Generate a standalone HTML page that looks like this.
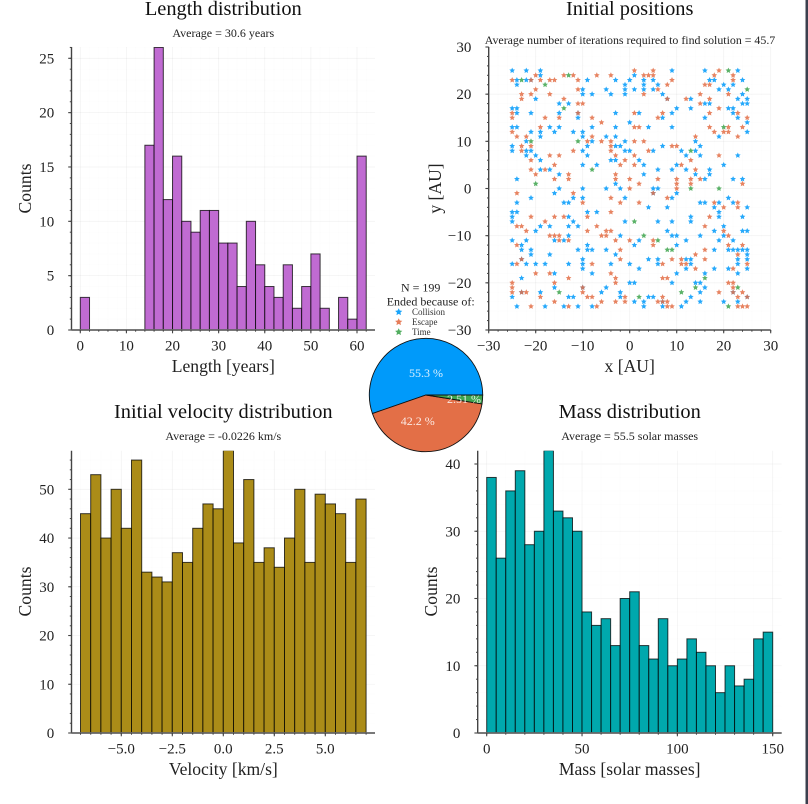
<!DOCTYPE html>
<html>
<head>
<meta charset="utf-8">
<title>Simulation summary charts</title>
<style>
html,body{margin:0;padding:0;background:#fff;width:808px;height:804px;overflow:hidden}
svg{display:block;position:absolute;left:0;top:0}
text{font-family:"Liberation Serif",serif;fill:#222}
.title{font-size:20.4px;text-anchor:middle;fill:#111}
.sub{font-size:12px;text-anchor:middle}
.wide-sub{font-size:11.9px}
.label{font-size:17.6px;text-anchor:middle}
.tick{font-size:15px}
.leg{font-size:9px;fill:#333}
.pct{font-size:12px;fill:#fff;fill-opacity:.85;text-anchor:middle}
</style>
</head>
<body>
<svg id="chart" width="808" height="804" viewBox="0 0 808 804" xmlns="http://www.w3.org/2000/svg">
  <rect x="0" y="0" width="808" height="804" fill="#fff"/>
  <rect x="805.5" y="0" width="2.5" height="804" fill="#3b3f4e"/>
  <g id="panels"></g>

  <text class="title" x="223.3" y="15">Length distribution</text>
  <text class="sub" x="223.3" y="37">Average = 30.6 years</text>
  <text class="label" x="223.3" y="372">Length [years]</text>
  <text class="label" transform="translate(31,188.5) rotate(-90)">Counts</text>

  <text class="title" x="629.7" y="15">Initial positions</text>
  <text class="sub wide-sub" x="630" y="44">Average number of iterations required to find solution = 45.7</text>
  <text class="label" x="629.7" y="372">x [AU]</text>
  <text class="label" transform="translate(441,188.5) rotate(-90)">y [AU]</text>

  <text class="title" x="223.3" y="418">Initial velocity distribution</text>
  <text class="sub" x="223.3" y="440">Average = -0.0226 km/s</text>
  <text class="label" x="223.3" y="775">Velocity [km/s]</text>
  <text class="label" transform="translate(31,591.5) rotate(-90)">Counts</text>

  <text class="title" x="629.7" y="418">Mass distribution</text>
  <text class="sub" x="629.7" y="440">Average = 55.5 solar masses</text>
  <text class="label" x="629.7" y="775">Mass [solar masses]</text>
  <text class="label" transform="translate(437,591.5) rotate(-90)">Counts</text>

  <g id="pie"></g>

  <text class="sub" x="420.7" y="291.5">N = 199</text>
  <text class="sub" x="430.7" y="305.5">Ended because of:</text>
  <g id="legend"></g>
</svg>
<script>
/* ---- data ---- */
var lengthCounts = [3,0,0,0,0,0,0,17,26,12,16,10,9,11,11,8,8,4,10,6,4,3,6,2,4,7,2,0,3,1,16];
var lengthBinStart = 0;
var lengthBinWidth = 2;
var lengthXTicks = [0,10,20,30,40,50,60];
var lengthYTicks = [0,5,10,15,20,25];

var velocityCounts = [45,53,40,50,42,56,33,32,31,37,35,42,47,46,58,39,52,35,38,34,40,50,35,49,47,45,35,48];
var velocityBinStart = -7;
var velocityBinWidth = 0.5;
var velocityXTicks = [-5,-2.5,0,2.5,5];
var velocityXTickLabels = ["\u22125.0","\u22122.5","0.0","2.5","5.0"];
var velocityYTicks = [0,10,20,30,40,50];

var massCounts = [38,26,36,39,28,30,42,33,32,30,18,16,17,13,20,21,13,11,17,10,11,14,12,10,6,10,7,8,14,15];
var massBinStart = 0;
var massBinWidth = 5;
var massXTicks = [0,50,100,150];
var massYTicks = [0,10,20,30,40];

var positionTicks = [-30,-20,-10,0,10,20,30];
var positionTickLabels = ["\u221230","\u221220","\u221210","0","10","20","30"];

var outcomeNames = ["Collision","Escape","Time"];
var outcomeShares = [55.3,42.2,2.51];
var outcomeLabels = ["55.3 %","42.2 %","2.51 %"];

var collisionPoints = [
[-25,25],[-22,25],[-19,25],[9,25],[16,25],[23,25],[-19,24],[1,24],
[-24,23],[-22,23],[-21,23],[-9,23],[-3,23],[0,23],[3,23],[5,23],[17,23],[18,23],[24,23],
[-24,22],[-1,22],[3,22],[6,22],[20,22],[22,22],[-10,21],[-5,21],[-1,21],[1,21],[3,21],[5,21],[19,21],[21,21],
[-10,20],[-8,20],[-4,20],[-1,20],[7,20],[24,20],[-20,19],[13,19],[23,19],[25,19],[8,19],
[-15,18],[-13,18],[16,18],[17,18],[24,18],[25,18],[-25,17],[-24,17],[10,17],[13,17],[21,17],[22,17],
[-24,16],[-21,16],[-15,16],[-3,16],[-11,16],[2,16],[9,16],[22,16],[-11,15],[7,15],[16,15],[23,15],[0,14],[25,14],
[-25,13],[-24,13],[-17,13],[-15,13],[-8,13],[-3,13],[4,13],[9,13],[-21,12],[-19,12],[-16,12],[-12,12],[-10,12],[25,12],
[-19,11],[-10,11],[-5,11],[-3,11],[19,11],[-22,10],[-8,10],[-1,10],[14,10],
[-25,9],[-9,9],[-3,9],[-2,9],[15,9],[7,9],[-25,8],[-22,8],[-21,8],[-10,8],[-1,8],[0,8],[5,8],[11,8],[14,8],
[-22,7],[-20,7],[-9,7],[12,7],[15,7],[23,7],[-19,6],[-4,6],[-3,6],[2,6],[-10,5],[-7,5],[3,5],[10,5],[20,5],
[-19,4],[-17,4],[6,4],[9,4],[12,4],[17,4],[-15,3],[3,3],[14,3],[17,3],[-24,2],[16,2],[22,2],[24,2],[-3,1],
[-15,0],[-10,0],[-5,0],[-2,0],[5,0],[6,0],[-16,-1],[5,-1],[10,-1],[-21,-2],[-12,-2],[-10,-2],[-1,-2],[9,-2],[21,-2],
[-24,-3],[-14,-3],[-13,-3],[15,-3],[16,-3],[19,-3],[22,-3],[4,-4],[8,-4],[18,-4],[25,-4],
[-25,-5],[-24,-5],[-9,-5],[-7,-5],[19,-5],[-25,-6],[-13,-6],[13,-6],[19,-6],[24,-6],
[-25,-7],[-12,-7],[-1,-7],[6,-7],[9,-7],[13,-7],[-19,-8],[-17,-8],[-13,-8],[-11,-8],[20,-8],
[-20,-9],[8,-9],[18,-9],[24,-9],[25,-9],[-13,-10],[-2,-10],[9,-10],[10,-10],[15,-10],[20,-10],
[-25,-11],[-22,-11],[-16,-11],[-14,-11],[2,-11],[12,-11],[19,-11],[22,-11],[-23,-12],[-9,-12],[1,-12],[10,-12],
[-23,-13],[-21,-13],[-11,-13],[-9,-13],[-8,-13],[-5,-13],[18,-13],[21,-13],[22,-13],[23,-13],[24,-13],[25,-13],
[-21,-14],[-17,-14],[-3,-14],[25,-14],[-23,-15],[-10,-15],[4,-15],[6,-15],[12,-15],[13,-15],[23,-15],[25,-15],
[-25,-16],[-22,-16],[-20,-16],[-18,-16],[-13,-16],[-10,-16],[-4,-16],[0,-16],[6,-16],[13,-16],[23,-16],
[-10,-17],[2,-17],[12,-17],[18,-17],[21,-17],[25,-17],[-16,-18],[-8,-18],[10,-18],[16,-18],[23,-18],[-23,-19],
[0,-20],[1,-20],[9,-20],[14,-20],[15,-20],[-16,-21],[-10,-21],[-5,-21],[16,-21],
[-23,-22],[-19,-22],[-6,-22],[-2,-22],[15,-22],[22,-22],[-25,-23],[-13,-23],[-12,-23],[-2,-23],[4,-23],[5,-23],[13,-23],[25,-23],
[1,-24],[3,-24],[7,-24],[12,-24],[15,-24],[20,-24],[23,-24],[-24,-25],[-18,-25],[-14,-25],[-11,-25],[-8,-25],[3,-25],[7,-25],[11,-25]
];
var escapePoints = [
[1,25],[5,25],[19,25],[-20,24],[-14,24],[-12,24],[-7,24],[-4,24],[3,24],[4,24],[5,24],[18,24],[22,24],
[-25,23],[-21,23],[-19,23],[-17,23],[-16,23],[-11,23],[9,23],[22,23],[8,22],[16,22],[17,22],[-20,21],[-11,21],[6,21],
[-23,20],[-21,20],[-17,20],[3,20],[15,20],[21,20],[-23,19],[-14,19],[8,19],[12,19],[17,19],[-11,18],[-10,18],[15,18],[19,17],
[-25,16],[-11,16],[1,16],[7,16],[17,16],[23,16],[-25,15],[-18,15],[-15,15],[-8,15],[6,15],[25,15],[-6,14],
[-19,13],[1,13],[2,13],[17,13],[21,13],[24,13],[-25,12],[18,12],[20,12],[21,12],[-24,11],[-22,11],[-8,11],[14,11],[23,11],
[-9,10],[-6,10],[-4,10],[1,10],[3,10],[-23,9],[-21,9],[-4,9],[9,9],[10,9],[-23,8],[-12,8],[-4,8],[4,8],
[-17,7],[-15,7],[-3,7],[1,7],[19,7],[-21,6],[-1,6],[13,6],[-16,5],[-2,5],[1,5],[11,5],[-21,4],[-18,4],[14,4],
[-20,3],[-13,3],[-3,3],[-16,2],[-13,2],[-3,2],[0,2],[6,2],[10,2],[13,2],[15,2],[2,1],[10,1],[13,1],[24,1],[0,0],[10,0],
[-24,-1],[-12,-1],[5,-1],[-4,-2],[8,-2],[-10,-3],[-2,-3],[2,-3],[18,-3],[23,-3],[20,-4],[23,-4],[-4,-5],
[-21,-6],[-16,-6],[-14,-6],[-9,-6],[17,-6],[-18,-7],[-24,-8],[-23,-8],[-7,-8],[16,-8],[-22,-9],[-9,-9],[-5,-9],[-4,-9],[20,-9],
[-17,-10],[-16,-10],[-15,-10],[-6,-10],[-5,-10],[21,-10],[-15,-11],[-13,-11],[-3,-11],[0,-11],[5,-11],
[-24,-12],[5,-12],[21,-12],[24,-12],[-2,-13],[16,-13],[14,-14],[23,-14],[-23,-15],[-2,-15],[9,-15],[11,-15],[16,-15],
[-24,-16],[-8,-16],[7,-16],[11,-16],[12,-16],[25,-16],[14,-17],[22,-17],[-20,-18],[-17,-18],[-4,-18],[-13,-19],[-3,-19],[7,-19],[8,-19],
[-25,-20],[-16,-20],[-3,-20],[21,-20],[22,-20],[-25,-21],[-10,-21],[22,-21],[-25,-22],[-23,-22],[-22,-22],[-10,-22],[19,-22],[22,-22],[24,-22],
[-19,-23],[-9,-23],[-8,-23],[-1,-23],[7,-23],[23,-23],[25,-23],[-16,-24],[-6,-24],[-3,-24],[-1,-24],[6,-24],[7,-24],[8,-24],
[-21,-25],[-13,-25],[-7,-25],[8,-25],[9,-25],[23,-25],[24,-25],[25,-25]
];
var timePoints = [
[-23,23],[-13,24],[21,25],[-18,22],[-14,17],[25,21],[-21,10],[-11,10],[20,13],[13,8],[-8,4],[-20,1],[13,0],[19,0],
[1,-7],[3,-10],[6,-11],[8,-13],[9,-13],[-15,-22],[16,-19],[14,-21],[23,-21],[11,-22],[2,-23],[21,-25]
];

/* ---- helpers ---- */
var NS = "http://www.w3.org/2000/svg";
var seriesColors = ["#009afa","#e36f47","#3ea44e"];

function make(tag, parent, name, attrs) {
  var el = document.createElementNS(NS, tag);
  
  
  for (var k in attrs) { el.setAttribute(k, attrs[k]); }
  parent.appendChild(el);
  return el;
}
function linearScale(v1, p1, v2, p2) {
  var k = (p2 - p1) / (v2 - v1);
  var f = function (v) { return p1 + (v - v1) * k; };
  f.invert = function (p) { return v1 + (p - p1) / k; };
  return f;
}
function minorValues(ticks, lo, hi) {
  var step = (ticks[1] - ticks[0]) / 5;
  var out = [];
  var start = Math.ceil(lo / step);
  for (var i = start; i * step <= hi; i++) { out.push(i * step); }
  return out;
}
function drawFrame(g, id, box, xs, ys, xTicks, xLabels, yTicks, yLabels) {
  var xMinor = minorValues(xTicks, xs.invert(box.left), xs.invert(box.right));
  var yMinor = minorValues(yTicks, ys.invert(box.bottom), ys.invert(box.top));
  xMinor.forEach(function (v) {
    make('line', g, id + '-x-minor-grid', {x1: xs(v), x2: xs(v), y1: box.top, y2: box.bottom, stroke: '#000', 'stroke-opacity': .012, 'stroke-width': .7});
  });
  yMinor.forEach(function (v) {
    make('line', g, id + '-y-minor-grid', {x1: box.left, x2: box.right, y1: ys(v), y2: ys(v), stroke: '#000', 'stroke-opacity': .012, 'stroke-width': .7});
  });
  xTicks.forEach(function (v) {
    make('line', g, id + '-x-grid', {x1: xs(v), x2: xs(v), y1: box.top, y2: box.bottom, stroke: '#000', 'stroke-opacity': .04, 'stroke-width': .8});
  });
  yTicks.forEach(function (v) {
    make('line', g, id + '-y-grid', {x1: box.left, x2: box.right, y1: ys(v), y2: ys(v), stroke: '#000', 'stroke-opacity': .04, 'stroke-width': .8});
  });
}
function drawAxes(g, id, box, xs, ys, xTicks, xLabels, yTicks, yLabels) {
  var xMinor = minorValues(xTicks, xs.invert(box.left), xs.invert(box.right));
  var yMinor = minorValues(yTicks, ys.invert(box.bottom), ys.invert(box.top));
  make('line', g, id + '-y-axis', {x1: box.left, x2: box.left, y1: box.top, y2: box.bottom, stroke: '#444', 'stroke-width': 1.4});
  make('line', g, id + '-x-axis', {x1: box.left, x2: box.right, y1: box.bottom, y2: box.bottom, stroke: '#666', 'stroke-width': 1.8});
  yMinor.forEach(function (v) {
    make('line', g, id + '-y-minor-tick', {x1: box.left - 1.7, x2: box.left, y1: ys(v), y2: ys(v), stroke: '#444', 'stroke-width': 1});
  });
  xMinor.forEach(function (v) {
    make('line', g, id + '-x-minor-tick', {x1: xs(v), x2: xs(v), y1: box.bottom, y2: box.bottom + 1.7, stroke: '#444', 'stroke-width': 1});
  });
  yTicks.forEach(function (v, i) {
    make('line', g, id + '-y-tick', {x1: box.left - 3.3, x2: box.left, y1: ys(v), y2: ys(v), stroke: '#444', 'stroke-width': 1.1});
    var t = make('text', g, id + '-y-tick-label', {'class': 'tick', x: box.left - 17.3, y: ys(v) + 5, 'text-anchor': 'end'});
    t.textContent = yLabels[i];
  });
  xTicks.forEach(function (v, i) {
    make('line', g, id + '-x-tick', {x1: xs(v), x2: xs(v), y1: box.bottom, y2: box.bottom + 3.3, stroke: '#444', 'stroke-width': 1.1});
    var t = make('text', g, id + '-x-tick-label', {'class': 'tick', x: xs(v), y: box.bottom + 20.5, 'text-anchor': 'middle'});
    t.textContent = xLabels[i];
  });
}
function drawHistogram(id, box, xs, ys, start, width, counts, color, xTicks, xLabels, yTicks) {
  var panels = document.getElementById('panels');
  var g = make('g', panels, id + '-histogram', {});
  var yLabels = yTicks.map(String);
  drawFrame(g, id, box, xs, ys, xTicks, xLabels, yTicks, yLabels);
  var clip = make('clipPath', g, id + '-clip', {id: id + '-clip'});
  make('rect', clip, id + '-clip-rect', {x: box.left, y: box.top, width: box.right - box.left, height: box.bottom - box.top + 1});
  var bars = make('g', g, id + '-bars', {'clip-path': 'url(#' + id + '-clip)'});
  counts.forEach(function (c, i) {
    var x0 = xs(start + i * width);
    var x1 = xs(start + (i + 1) * width);
    make('rect', bars, id + '-bar', {x: x0, y: ys(c), width: x1 - x0, height: ys(0) - ys(c), fill: color, stroke: '#000', 'stroke-opacity': .75, 'stroke-width': 1});
  });
  drawAxes(g, id, box, xs, ys, xTicks, xLabels, yTicks, yLabels);
}
function starPath(cx, cy, R) {
  var r = R * 0.48;
  var d = '';
  for (var i = 0; i < 10; i++) {
    var a = -Math.PI / 2 + i * Math.PI / 5;
    var q = i % 2 ? r : R;
    d += (i ? 'L' : 'M') + (cx + q * Math.cos(a)).toFixed(2) + ' ' + (cy + q * Math.sin(a)).toFixed(2);
  }
  return d + 'Z';
}

/* ---- length histogram ---- */
drawHistogram('length', {left: 71.5, right: 375, top: 47, bottom: 330},
  linearScale(0, 80.3, 60, 357), linearScale(0, 330, 25, 58.3),
  lengthBinStart, lengthBinWidth, lengthCounts, '#c06bd2',
  lengthXTicks, lengthXTicks.map(String), lengthYTicks);

/* ---- velocity histogram ---- */
drawHistogram('velocity', {left: 71.5, right: 375, top: 450.7, bottom: 733},
  linearScale(-5, 121.3, 5, 325.3), linearScale(0, 733, 50, 489.3),
  velocityBinStart, velocityBinWidth, velocityCounts, '#ab8c18',
  velocityXTicks, velocityXTickLabels, velocityYTicks);

/* ---- mass histogram ---- */
drawHistogram('mass', {left: 477.7, right: 781.7, top: 450.7, bottom: 733},
  linearScale(0, 486.7, 150, 772.7), linearScale(0, 733, 40, 464),
  massBinStart, massBinWidth, massCounts, '#00a8ad',
  massXTicks, massXTicks.map(String), massYTicks);

/* ---- scatter ---- */
(function () {
  var panels = document.getElementById('panels');
  var g = make('g', panels, 'positions-scatter', {});
  var box = {left: 488.7, right: 770.7, top: 47, bottom: 330};
  var xs = linearScale(-30, 488.7, 30, 770.7);
  var ys = linearScale(-30, 330, 30, 47);
  drawFrame(g, 'positions', box, xs, ys, positionTicks, positionTickLabels, positionTicks, positionTickLabels);
  [collisionPoints, escapePoints, timePoints].forEach(function (pts, s) {
    var sg = make('g', g, 'series-' + outcomeNames[s].toLowerCase(), {});
    pts.forEach(function (p) {
      make('path', sg, outcomeNames[s].toLowerCase() + '-point', {d: starPath(xs(p[0]), ys(p[1]), 3), fill: seriesColors[s], 'fill-opacity': .85});
    });
  });
  drawAxes(g, 'positions', box, xs, ys, positionTicks, positionTickLabels, positionTicks, positionTickLabels);
})();

/* ---- pie ---- */
(function () {
  var g = document.getElementById('pie');
  var cx = 426, cy = 395, R = 56.7;
  var total = outcomeShares.reduce(function (a, b) { return a + b; }, 0);
  var acc = 0;
  var labelSpots = [[0, -22], [-8.3, 26], [38, 4]];
  outcomeShares.forEach(function (v, i) {
    var a0 = acc / total * 2 * Math.PI;
    acc += v;
    var a1 = acc / total * 2 * Math.PI;
    var large = (a1 - a0) > Math.PI ? 1 : 0;
    var d = 'M' + cx + ' ' + cy + 'L' + (cx + R * Math.cos(a0)) + ' ' + (cy - R * Math.sin(a0)) +
      'A' + R + ' ' + R + ' 0 ' + large + ' 0 ' + (cx + R * Math.cos(a1)) + ' ' + (cy - R * Math.sin(a1)) + 'Z';
    make('path', g, 'pie-slice-' + outcomeNames[i].toLowerCase(), {d: d, fill: seriesColors[i], stroke: '#111', 'stroke-width': .9});
  });
  outcomeLabels.forEach(function (s, i) {
    var t = make('text', g, 'pie-label-' + outcomeNames[i].toLowerCase(), {'class': 'pct', x: cx + labelSpots[i][0], y: cy + labelSpots[i][1] + 4});
    t.textContent = s;
  });
  var lg = document.getElementById('legend');
  outcomeNames.forEach(function (n, i) {
    var y = 312 + i * 10;
    make('path', lg, 'legend-marker-' + n.toLowerCase(), {d: starPath(398.7, y, 3.8), fill: seriesColors[i], 'fill-opacity': .9});
    var t = make('text', lg, 'legend-entry-' + n.toLowerCase(), {'class': 'leg', x: 412, y: y + 3});
    t.textContent = n;
  });
})();
</script>
</body>
</html>
